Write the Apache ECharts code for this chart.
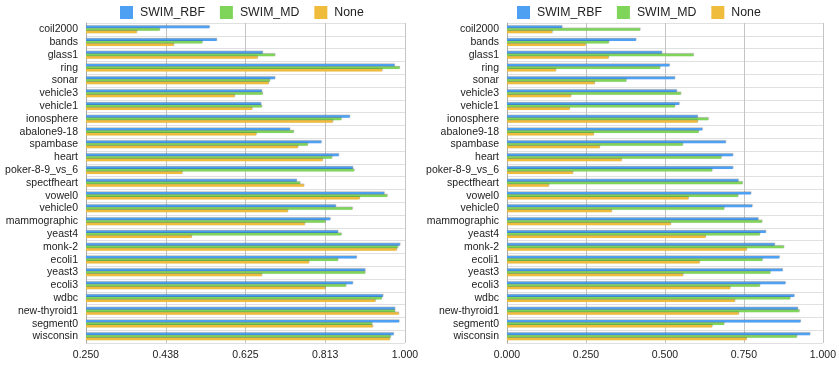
<!DOCTYPE html>
<html>
<head>
<meta charset="utf-8">
<script src="https://cdn.jsdelivr.net/npm/echarts@6/dist/echarts.min.js"></script>
<style>html,body{margin:0;padding:0;background:#fff}#c{width:839px;height:367px}</style>
</head>
<body>
<div id="c"></div>
<script>
const categories = ['coil2000','bands','glass1','ring','sonar','vehicle3','vehicle1','ionosphere','abalone9-18','spambase','heart','poker-8-9_vs_6','spectfheart','vowel0','vehicle0','mammographic','yeast4','monk-2','ecoli1','yeast3','ecoli3','wdbc','new-thyroid1','segment0','wisconsin'];
const seriesNames = ['SWIM_RBF','SWIM_MD','None'];
// Left panel
const leftRBF  = [0.540,0.557,0.665,0.975,0.694,0.663,0.661,0.870,0.729,0.803,0.844,0.877,0.745,0.951,0.837,0.824,0.842,0.988,0.886,0.906,0.877,0.948,0.976,0.986,0.973];
const leftMD   = [0.423,0.523,0.694,0.987,0.682,0.665,0.663,0.850,0.738,0.771,0.828,0.880,0.753,0.958,0.876,0.812,0.850,0.983,0.842,0.906,0.861,0.945,0.976,0.922,0.966];
const leftNone = [0.369,0.456,0.653,0.946,0.679,0.599,0.640,0.830,0.650,0.748,0.806,0.476,0.762,0.893,0.724,0.764,0.498,0.980,0.774,0.663,0.812,0.930,0.985,0.924,0.964];
// Right panel
const rightRBF  = [0.174,0.408,0.490,0.514,0.531,0.537,0.545,0.603,0.618,0.692,0.715,0.715,0.732,0.772,0.776,0.795,0.819,0.847,0.862,0.872,0.881,0.909,0.920,0.929,0.959];
const rightMD   = [0.421,0.322,0.590,0.484,0.377,0.550,0.531,0.637,0.606,0.556,0.678,0.649,0.745,0.731,0.687,0.807,0.800,0.876,0.808,0.833,0.800,0.896,0.925,0.687,0.917];
const rightNone = [0.143,0.248,0.321,0.154,0.277,0.202,0.198,0.603,0.274,0.293,0.362,0.208,0.132,0.574,0.331,0.518,0.628,0.758,0.609,0.557,0.706,0.721,0.733,0.649,0.758];
const leftTicks = [0.25, 1.0, 0.1875];
const rightTicks = [0, 1.0, 0.25];

const colors = ['#4ea1f2','#7fd55a','#f0bc3c'];
const FONT = 'Liberation Sans, Arial, Helvetica, sans-serif';

const chart = echarts.init(document.getElementById('c'), null, {renderer:'canvas'});

function xAx(gi, t){
  return {
    type:'value', gridIndex:gi, min:t[0], max:t[1], interval:t[2],
    axisLine:{show:false}, axisTick:{show:false},
    splitLine:{show:true, lineStyle:{color:'#c4c4c4', width:1}},
    axisLabel:{fontFamily:FONT, fontSize:10.5, color:'#222', margin:7,
      formatter:v=>v.toFixed(3)}
  };
}
function yAx(gi){
  return {
    type:'category', gridIndex:gi, data:categories, inverse:true,
    axisLine:{show:true, lineStyle:{color:'#aaa'}}, axisTick:{show:false},
    splitLine:{show:true, lineStyle:{color:'#e0e0e0'}},
    axisLabel:{fontFamily:FONT, fontSize:10.5, color:'#222', margin:8, interval:0}
  };
}
function bars(name, data, idx, gi){
  return {
    name, type:'bar', xAxisIndex:gi, yAxisIndex:gi, data,
    barWidth:2.5, barGap:'0%',
    itemStyle:{color:colors[idx], shadowColor:'rgba(0,0,0,0.35)', shadowBlur:1, shadowOffsetX:0.5, shadowOffsetY:-0.5},
    emphasis:{disabled:true}, animation:false
  };
}
const legendBase = {
  data:seriesNames, top:1, itemWidth:13, itemHeight:13, itemGap:15,
  icon:'rect',
  textStyle:{fontFamily:FONT, fontSize:12.3, color:'#222', padding:[0,0,0,2]}
};

chart.setOption({
  animation:false,
  color:colors,
  legend:[
    Object.assign({}, legendBase, {left:115}),
    Object.assign({}, legendBase, {left:512})
  ],
  grid:[
    {left:86, right:434, top:23, bottom:24},
    {left:507, right:12, top:23, bottom:24}
  ],
  xAxis:[xAx(0, leftTicks), xAx(1, rightTicks)],
  yAxis:[yAx(0), yAx(1)],
  series:[
    bars(seriesNames[0], leftRBF, 0, 0),
    bars(seriesNames[1], leftMD, 1, 0),
    bars(seriesNames[2], leftNone, 2, 0),
    bars(seriesNames[0], rightRBF, 0, 1),
    bars(seriesNames[1], rightMD, 1, 1),
    bars(seriesNames[2], rightNone, 2, 1)
  ]
});
</script>
</body>
</html>
